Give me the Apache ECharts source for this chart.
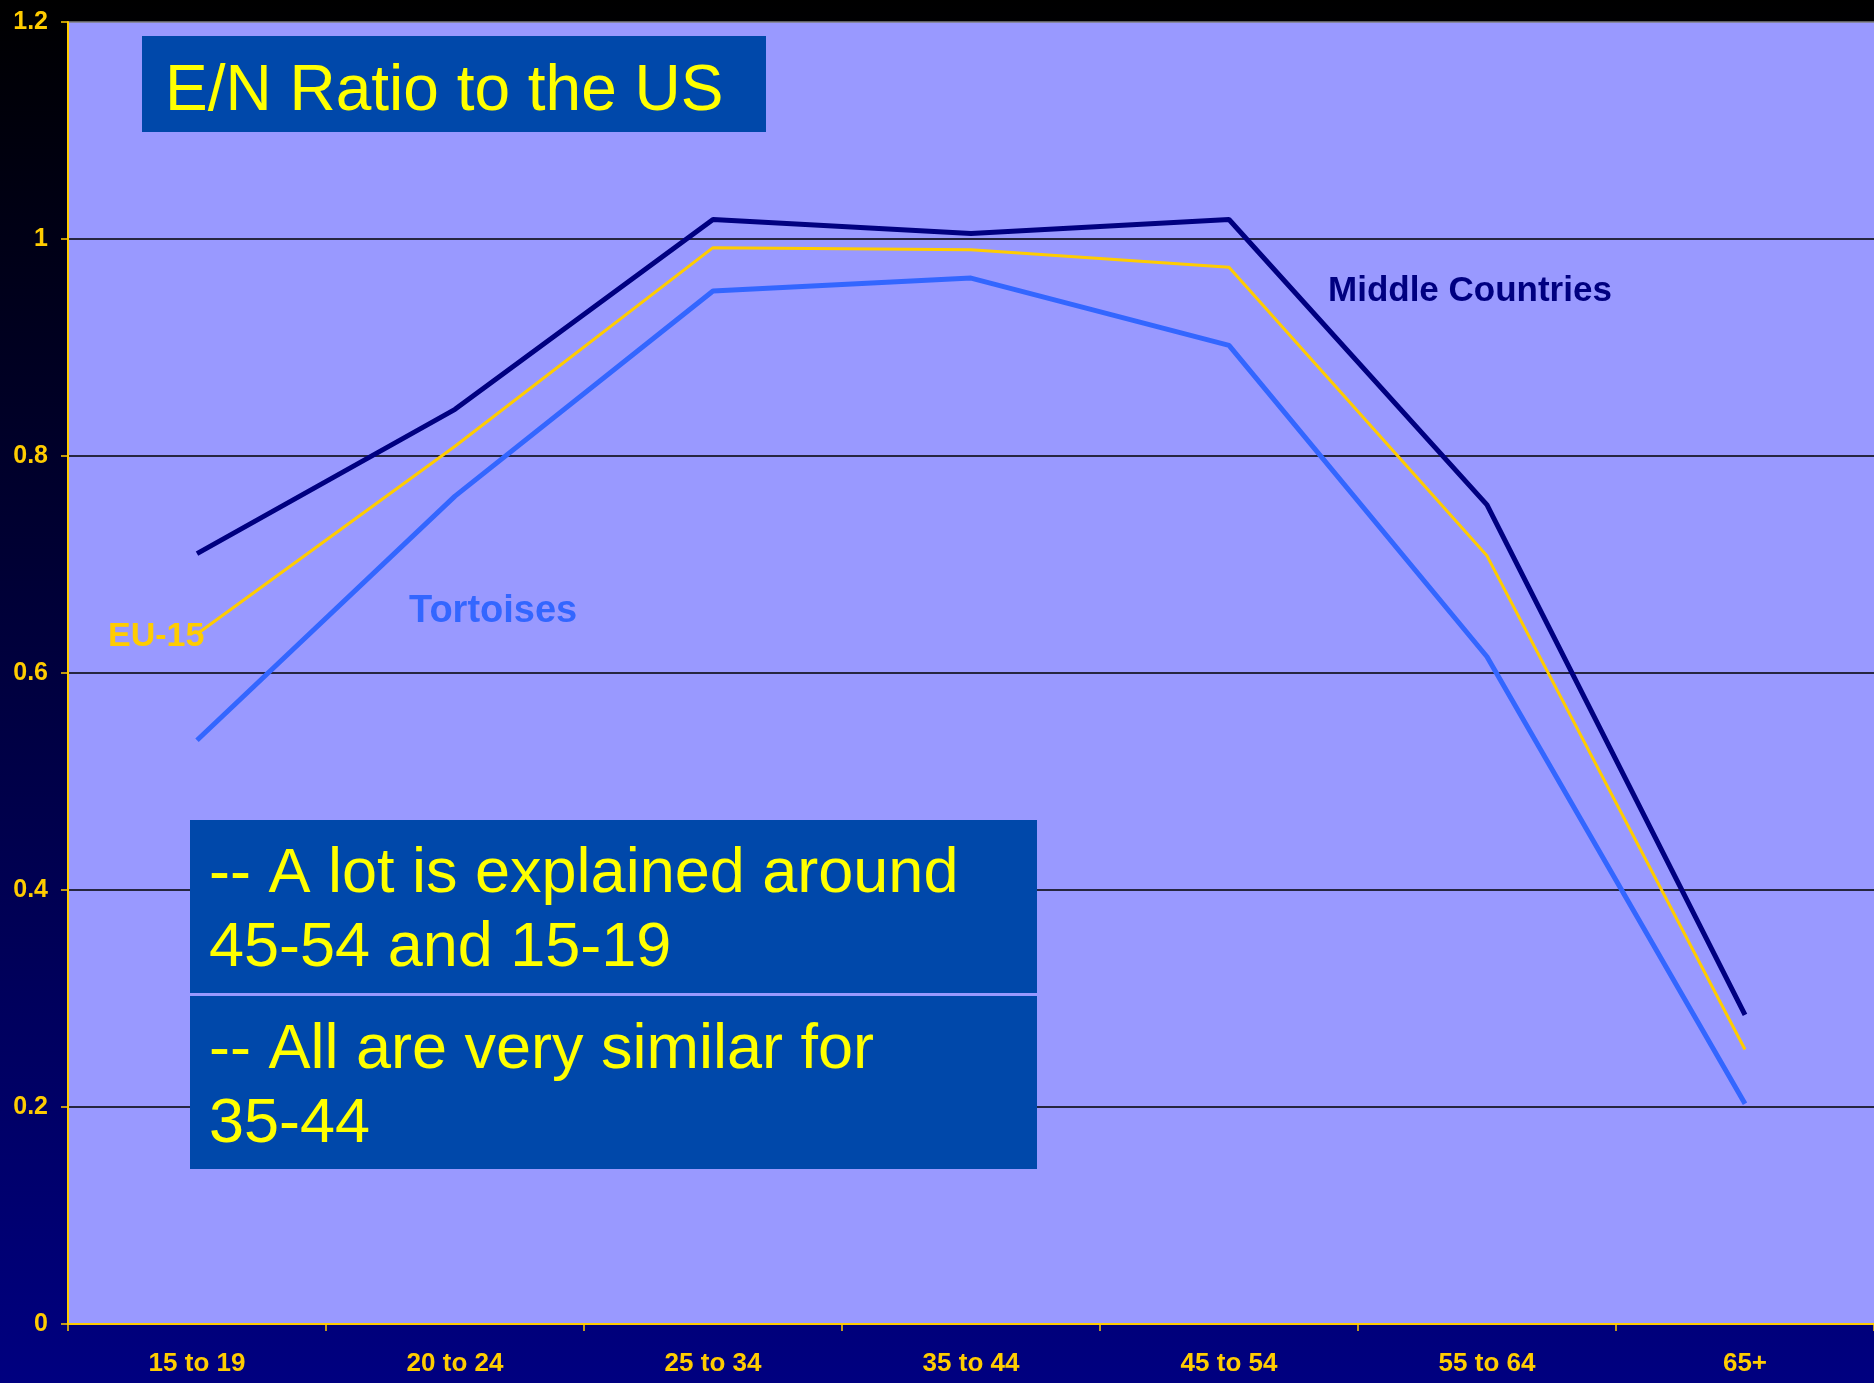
<!DOCTYPE html>
<html>
<head>
<meta charset="utf-8">
<script src="https://cdn.jsdelivr.net/npm/echarts@6/dist/echarts.min.js"></script>
<style>
html,body{margin:0;padding:0;background:#000040;}
#chart{width:1874px;height:1383px;}
</style>
</head>
<body>
<div id="chart"></div>
<script>
var categories = ['15 to 19','20 to 24','25 to 34','35 to 44','45 to 54','55 to 64','65+'];
var middleCountries = [0.710, 0.843, 1.018, 1.005, 1.018, 0.755, 0.285];
var eu15 = [0.636, 0.809, 0.992, 0.990, 0.974, 0.708, 0.253];
var tortoises = [0.538, 0.763, 0.952, 0.964, 0.902, 0.615, 0.203];
var yTicks = [0, 0.2, 0.4, 0.6, 0.8, 1, 1.2];
var titleText = 'E/N Ratio to the US';
var note1 = ['-- A lot is explained around', '45-54 and 15-19'];
var note2 = ['-- All are very similar for', '35-44'];

var FONT = '"Liberation Sans", Arial, sans-serif';
var chart = echarts.init(document.getElementById('chart'), null, {renderer:'canvas'});

function txt(x, y, s, size, color, bold) {
  return {type:'text', x:x, y:y, z:100, style:{text:s, fill:color, font:(bold?'bold ':'') + size + 'px ' + FONT, verticalAlign:'middle', align:'left'}};
}

var option = {
  animation:false,
  backgroundColor:{type:'linear', x:0, y:0, x2:0, y2:1, colorStops:[{offset:0,color:'#000000'},{offset:1,color:'#000080'}]},
  grid:{left:68, right:0, top:22, bottom:59, show:true, backgroundColor:'#9999FF', borderWidth:0},
  xAxis:{
    type:'category', data:categories, boundaryGap:true,
    axisLine:{lineStyle:{color:'#FFCC00', width:2}},
    axisTick:{show:true, length:7, lineStyle:{color:'#FFCC00', width:1.5}},
    axisLabel:{color:'#FFCC00', fontFamily:FONT, fontWeight:'bold', fontSize:26, margin:27},
    splitLine:{show:false}
  },
  yAxis:{
    type:'value', min:0, max:1.2, interval:0.2,
    axisLine:{show:true, lineStyle:{color:'#FFCC00', width:2}},
    axisTick:{show:true, length:7, lineStyle:{color:'#FFCC00', width:1.5}},
    axisLabel:{color:'#FFCC00', fontFamily:FONT, fontWeight:'bold', fontSize:25, margin:20,
      formatter:function(v){ return String(Math.round(v*10)/10); }},
    splitLine:{show:true, lineStyle:{color:['#000000','#000000','#000000','#000000','#000000','#000000','#808080'], width:1.5}}
  },
  series:[
    {name:'Middle Countries', type:'line', data:middleCountries, showSymbol:false, symbol:'none', lineStyle:{color:'#000080', width:5}, itemStyle:{color:'#000080'}, z:3},
    {name:'EU-15', type:'line', data:eu15, showSymbol:false, symbol:'none', lineStyle:{color:'#FFCC00', width:3}, itemStyle:{color:'#FFCC00'}, z:4},
    {name:'Tortoises', type:'line', data:tortoises, showSymbol:false, symbol:'none', lineStyle:{color:'#3366FF', width:5}, itemStyle:{color:'#3366FF'}, z:2}
  ],
  graphic:[
    {type:'rect', shape:{x:142, y:36, width:624, height:96}, style:{fill:'#0048AA'}, z:90},
    txt(165, 92, titleText, 64, '#FFFF00', false),
    {type:'rect', shape:{x:190, y:820, width:847, height:173}, style:{fill:'#0048AA'}, z:90},
    {type:'rect', shape:{x:190, y:996, width:847, height:173}, style:{fill:'#0048AA'}, z:90},
    txt(209, 875, note1[0], 63, '#FFFF00', false),
    txt(209, 949, note1[1], 63, '#FFFF00', false),
    txt(209, 1051, note2[0], 63, '#FFFF00', false),
    txt(209, 1125, note2[1], 63, '#FFFF00', false),
    txt(1328, 291, 'Middle Countries', 35, '#000080', true),
    txt(409, 612, 'Tortoises', 38, '#3366FF', true),
    txt(108, 637, 'EU-15', 34, '#FFCC00', true)
  ]
};
chart.setOption(option);
</script>
</body>
</html>
